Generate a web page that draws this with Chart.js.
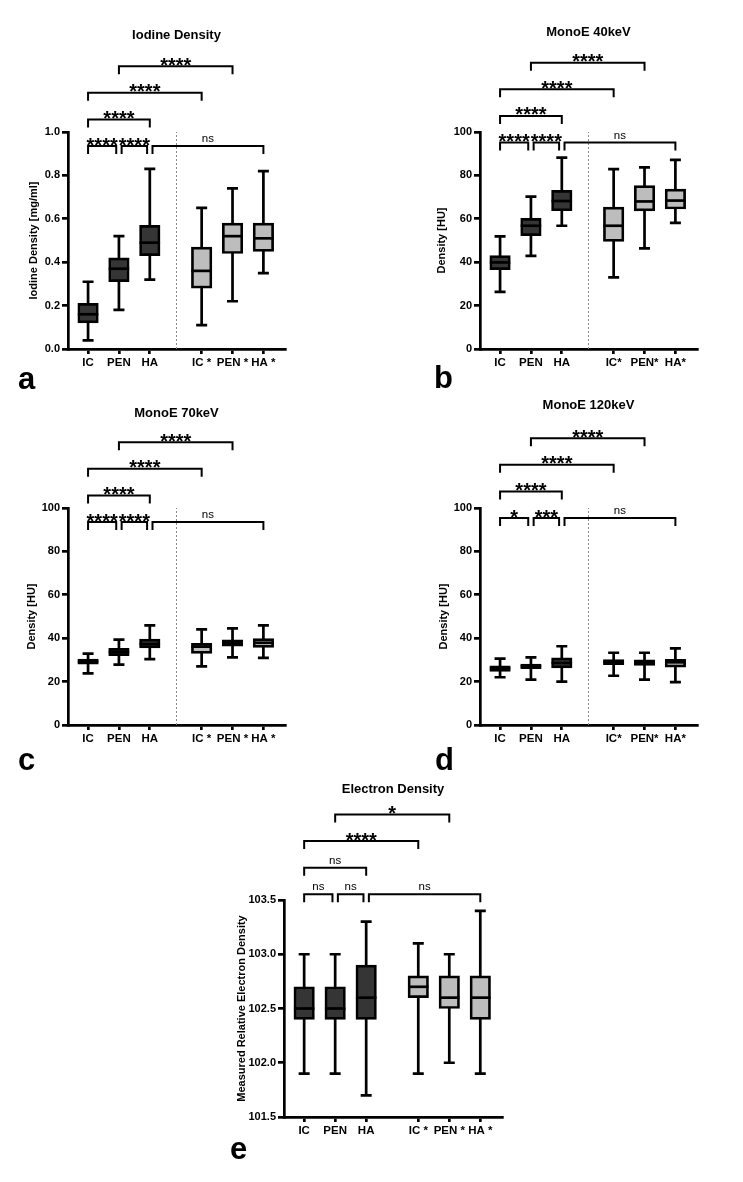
<!DOCTYPE html>
<html>
<head>
<meta charset="utf-8">
<title>DECT box plots</title>
<script src="https://cdn.jsdelivr.net/npm/chart.js@4.4.1/dist/chart.umd.min.js"></script>
<style>
  html, body { margin: 0; padding: 0; background: #fff; }
  #stage { position: relative; width: 743px; height: 1182px; overflow: hidden; }
  #stage canvas { position: absolute; left: 0; top: 0; }
</style>
</head>
<body>
<div id="stage"></div>
<script>
// --- Daten ---
// Jede Box: [min, q1, median, q3, max]
const categories = ['IC', 'PEN', 'HA', 'IC*', 'PEN*', 'HA*'];
const tickLabelsSpaced = ['IC', 'PEN', 'HA', 'IC *', 'PEN *', 'HA *'];
const tickLabelsTight = ['IC', 'PEN', 'HA', 'IC*', 'PEN*', 'HA*'];

const iodineDensity = [
    [0.04, 0.12, 0.16, 0.21, 0.31],
    [0.18, 0.31, 0.37, 0.42, 0.52],
    [0.32, 0.43, 0.49, 0.57, 0.83],
    [0.11, 0.28, 0.36, 0.47, 0.65],
    [0.22, 0.44, 0.52, 0.58, 0.74],
    [0.35, 0.45, 0.51, 0.58, 0.82]
];
const monoE40 = [
    [26.3, 36.6, 39.9, 43.0, 51.9],
    [42.9, 52.2, 56.8, 60.2, 70.2],
    [56.8, 63.7, 68.2, 73.1, 88.2],
    [33.0, 49.6, 56.8, 65.4, 82.9],
    [46.4, 63.6, 68.0, 75.3, 83.7],
    [58.1, 64.5, 68.4, 73.7, 87.2]
];
const monoE70 = [
    [23.8, 28.0, 29.2, 30.4, 32.9],
    [27.8, 32.0, 33.6, 35.3, 39.3],
    [30.4, 35.5, 37.3, 39.6, 45.9],
    [27.0, 33.0, 36.1, 37.6, 44.1],
    [31.2, 36.3, 37.9, 39.3, 44.5],
    [30.9, 35.8, 37.9, 39.8, 45.9]
];
const monoE120 = [
    [22.0, 24.7, 26.1, 27.3, 30.6],
    [20.9, 26.0, 27.0, 28.1, 31.2],
    [20.0, 26.3, 28.6, 30.9, 36.3],
    [22.7, 27.8, 29.0, 30.1, 33.3],
    [20.9, 27.5, 28.7, 30.0, 33.3],
    [19.8, 26.7, 28.9, 30.3, 35.3]
];
const electronDensity = [
    [101.9, 102.4, 102.5, 102.7, 103.0],
    [101.9, 102.4, 102.5, 102.7, 103.0],
    [101.7, 102.4, 102.6, 102.9, 103.3],
    [101.9, 102.6, 102.7, 102.8, 103.1],
    [102.0, 102.5, 102.6, 102.8, 103.0],
    [101.9, 102.4, 102.6, 102.8, 103.4]
];

// Vergleiche (Index-Paare) und Signifikanzniveaus
const comparisonPairs = [[0, 1], [1, 2], [2, 5], [0, 2], [0, 3], [1, 4]];
const iodineSignificance = ['****', '****', 'ns', '****', '****', '****'];
const mono40Significance = ['****', '****', 'ns', '****', '****', '****'];
const mono70Significance = ['****', '****', 'ns', '****', '****', '****'];
const mono120Significance = ['*', '***', 'ns', '****', '****', '****'];
const electronSignificance = ['ns', 'ns', 'ns', 'ns', '****', '*'];

// Achsenticks
const iodineTicks = [0, 0.2, 0.4, 0.6, 0.8, 1.0];
const huTicks = [0, 20, 40, 60, 80, 100];
const electronTicks = [101.5, 102.0, 102.5, 103.0, 103.5];

// --- Layout ---
const PAGE_W = 743, PAGE_H = 1182;
const FONT = '"Liberation Sans", Arial, Helvetica, sans-serif';
const categoryPositions = [0, 1, 2, 3.68, 4.68, 5.68];
const bracketRows = [0, 0, 0, 1, 2, 3];
const darkFill = '#353535';
const lightFill = '#bdbdbd';
const boxFills = categories.map((c, i) => i < 3 ? darkFill : lightFill);
const LINE_W = 2.7;

const panels = [
    { letter: 'a', title: 'Iodine Density', yTitle: 'Iodine Density [mg/ml]', boxes: iodineDensity,
      sig: iodineSignificance, yTicks: iodineTicks, decimals: 1, xLabels: tickLabelsSpaced,
      area: { left: 68, right: 285, top: 132, bottom: 349 }, divider: true,
      titleDy: -97, bracketBase: 14, yTitleDx: -34, letterPos: [-50, 40] },
    { letter: 'b', title: 'MonoE 40keV', yTitle: 'Density [HU]', boxes: monoE40,
      sig: mono40Significance, yTicks: huTicks, decimals: 0, xLabels: tickLabelsTight,
      area: { left: 480, right: 697, top: 132, bottom: 349 }, divider: true,
      titleDy: -99.5, bracketBase: 10.5, yTitleDx: -38, letterPos: [-46, 39] },
    { letter: 'c', title: 'MonoE 70keV', yTitle: 'Density [HU]', boxes: monoE70,
      sig: mono70Significance, yTicks: huTicks, decimals: 0, xLabels: tickLabelsSpaced,
      area: { left: 68, right: 285, top: 508, bottom: 725 }, divider: true,
      titleDy: -95, bracketBase: 14, yTitleDx: -36, letterPos: [-50, 45] },
    { letter: 'd', title: 'MonoE 120keV', yTitle: 'Density [HU]', boxes: monoE120,
      sig: mono120Significance, yTicks: huTicks, decimals: 0, xLabels: tickLabelsTight,
      area: { left: 480, right: 697, top: 508, bottom: 725 }, divider: true,
      titleDy: -102.5, bracketBase: 10, yTitleDx: -36, letterPos: [-45, 45] },
    { letter: 'e', title: 'Electron Density', yTitle: 'Measured Relative Electron Density', boxes: electronDensity,
      sig: electronSignificance, yTicks: electronTicks, decimals: 1, xLabels: tickLabelsSpaced,
      area: { left: 284, right: 502, top: 900, bottom: 1117 }, divider: false,
      titleDy: -110.5, bracketBase: -5.7, yTitleDx: -42, letterPos: [-54, 42] }
];

// Whisker, Median, Klammern und Beschriftungen
const boxPlotPlugin = {
    id: 'boxPlot',
    beforeDatasetsDraw(chart, args, opts) {
        const { ctx, chartArea: ca, scales: { x, y } } = chart;
        const p = opts.panel;
        ctx.save();
        if (p.divider) {
            const dx = Math.round(x.getPixelForValue((categoryPositions[2] + categoryPositions[3]) / 2)) + 0.5;
            ctx.strokeStyle = '#8a8a8a';
            ctx.lineWidth = 1;
            ctx.setLineDash([2, 2]);
            ctx.beginPath();
            ctx.moveTo(dx, ca.bottom);
            ctx.lineTo(dx, ca.top);
            ctx.stroke();
            ctx.setLineDash([]);
        }
        ctx.strokeStyle = '#000';
        ctx.lineWidth = LINE_W;
        p.boxes.forEach((b, i) => {
            const cx = x.getPixelForValue(categoryPositions[i]);
            const yMin = y.getPixelForValue(b[0]);
            const yMax = y.getPixelForValue(b[4]);
            ctx.beginPath();
            ctx.moveTo(cx, yMin); ctx.lineTo(cx, yMax);
            ctx.moveTo(cx - 5.5, yMin); ctx.lineTo(cx + 5.5, yMin);
            ctx.moveTo(cx - 5.5, yMax); ctx.lineTo(cx + 5.5, yMax);
            ctx.stroke();
        });
        ctx.restore();
    },
    afterDatasetsDraw(chart, args, opts) {
        const { ctx, chartArea: ca, scales: { x, y } } = chart;
        const p = opts.panel;
        const meta = chart.getDatasetMeta(0);
        ctx.save();

        // Mediane
        ctx.strokeStyle = '#000';
        ctx.lineWidth = LINE_W;
        p.boxes.forEach((b, i) => {
            const bar = meta.data[i];
            const ym = y.getPixelForValue(b[2]);
            ctx.beginPath();
            ctx.moveTo(bar.x - bar.width / 2, ym);
            ctx.lineTo(bar.x + bar.width / 2, ym);
            ctx.stroke();
        });

        // Signifikanz-Klammern
        ctx.lineWidth = 2;
        ctx.lineJoin = 'miter';
        ctx.fillStyle = '#000';
        ctx.textAlign = 'center';
        ctx.textBaseline = 'alphabetic';
        comparisonPairs.forEach(([from, to], k) => {
            const row = bracketRows[k];
            const lineY = ca.top + p.bracketBase - row * 26.6;
            let x1 = x.getPixelForValue(categoryPositions[from]);
            let x2 = x.getPixelForValue(categoryPositions[to]);
            comparisonPairs.forEach(([f2, t2], m) => {
                if (m === k || bracketRows[m] !== row) return;
                if (t2 === from) x1 += 2.7;
                if (f2 === to) x2 -= 2.7;
            });
            ctx.beginPath();
            ctx.moveTo(x1, lineY + 8);
            ctx.lineTo(x1, lineY);
            ctx.lineTo(x2, lineY);
            ctx.lineTo(x2, lineY + 8);
            ctx.stroke();
            const label = p.sig[k];
            const mid = (x1 + x2) / 2;
            if (label === 'ns') {
                ctx.font = '11.5px ' + FONT;
                ctx.fillText(label, mid, lineY - 4);
            } else {
                ctx.font = 'bold 20px ' + FONT;
                ctx.fillText(label, mid, lineY + 5.5);
            }
        });

        // Titel
        ctx.font = 'bold 13px ' + FONT;
        ctx.textBaseline = 'middle';
        ctx.fillText(p.title, (ca.left + ca.right) / 2, ca.top + p.titleDy);

        // y-Achsentitel
        ctx.save();
        ctx.translate(ca.left + p.yTitleDx, (ca.top + ca.bottom) / 2);
        ctx.rotate(-Math.PI / 2);
        ctx.font = 'bold 11px ' + FONT;
        ctx.fillText(p.yTitle, 0, 0);
        ctx.restore();

        // Panel-Buchstabe
        ctx.font = 'bold 31px ' + FONT;
        ctx.textAlign = 'left';
        ctx.textBaseline = 'alphabetic';
        ctx.fillText(p.letter, ca.left + p.letterPos[0], ca.bottom + p.letterPos[1]);

        ctx.restore();
    }
};

const Y_W = 40, X_H = 30;
const stage = document.getElementById('stage');

panels.forEach(p => {
    const canvas = document.createElement('canvas');
    canvas.width = PAGE_W;
    canvas.height = PAGE_H;
    stage.appendChild(canvas);

    const yMin = p.yTicks[0];
    const yMax = p.yTicks[p.yTicks.length - 1];

    new Chart(canvas, {
        type: 'bar',
        data: {
            datasets: [{
                data: p.boxes.map((b, i) => ({ x: categoryPositions[i], y: [b[1], b[3]] })),
                backgroundColor: boxFills,
                borderColor: '#000',
                borderWidth: LINE_W,
                borderSkipped: false,
                barThickness: 20.5
            }]
        },
        options: {
            responsive: false,
            animation: false,
            events: [],
            layout: {
                padding: {
                    left: p.area.left - Y_W,
                    right: PAGE_W - p.area.right,
                    top: p.area.top,
                    bottom: PAGE_H - p.area.bottom - X_H
                }
            },
            plugins: {
                legend: { display: false },
                tooltip: { enabled: false },
                title: { display: false },
                boxPlot: { panel: p }
            },
            scales: {
                x: {
                    type: 'linear',
                    min: -0.65,
                    max: 6.38,
                    offset: false,
                    afterFit(s) { s.height = X_H; },
                    afterBuildTicks(s) { s.ticks = categoryPositions.map(v => ({ value: v })); },
                    ticks: {
                        autoSkip: false,
                        maxRotation: 0,
                        padding: 2,
                        color: '#000',
                        font: { family: FONT, weight: 'bold', size: 11.5 },
                        callback: (v, i) => p.xLabels[i]
                    },
                    grid: { display: true, offset: false, drawOnChartArea: false, drawTicks: true, tickLength: 5, color: '#000', lineWidth: LINE_W },
                    border: { display: true, color: '#000', width: LINE_W }
                },
                y: {
                    min: yMin,
                    max: yMax,
                    afterFit(s) { s.width = Y_W; },
                    afterBuildTicks(s) { s.ticks = p.yTicks.map(v => ({ value: v })); },
                    ticks: {
                        padding: 2,
                        color: '#000',
                        font: { family: FONT, weight: 'bold', size: 11 },
                        callback: v => Number(v).toFixed(p.decimals)
                    },
                    grid: { display: true, drawOnChartArea: false, drawTicks: true, tickLength: 6, color: '#000', lineWidth: LINE_W },
                    border: { display: true, color: '#000', width: LINE_W }
                }
            }
        },
        plugins: [boxPlotPlugin]
    });
});
</script>
</body>
</html>
